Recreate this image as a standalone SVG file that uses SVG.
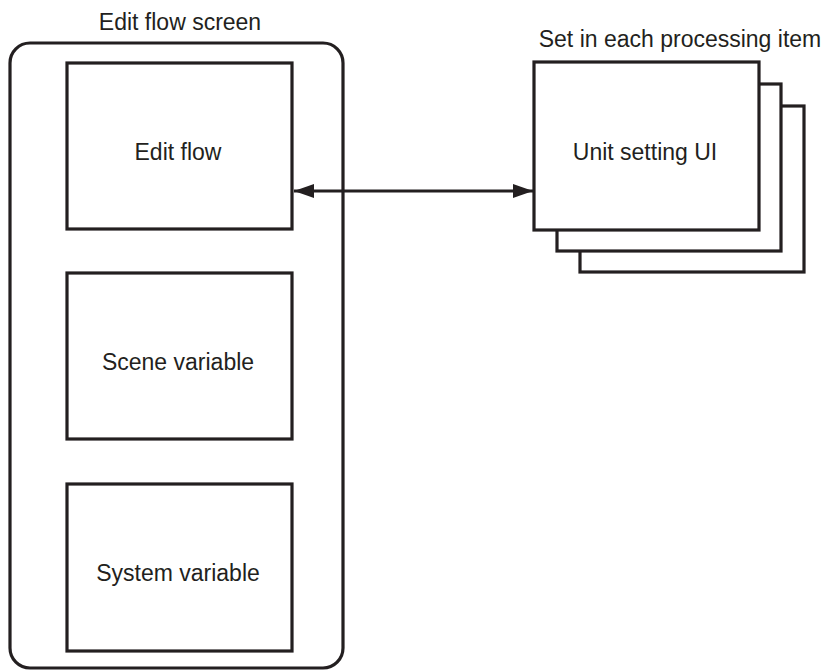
<svg xmlns="http://www.w3.org/2000/svg" width="828" height="671" viewBox="0 0 828 671">
<defs>
<style>
.box{fill:#fff;stroke:#231f20;stroke-width:3.2}
.t{font-family:"Liberation Sans",Arial,sans-serif;font-size:23px;fill:#231f20;text-anchor:middle}
.c{stroke:#231f20;stroke-width:3;fill:none}
</style>
<marker id="ah" viewBox="0 0 20 14" refX="20" refY="7" markerWidth="20" markerHeight="14" markerUnits="userSpaceOnUse" orient="auto-start-reverse">
<path d="M0,0 L20,7 L0,14 Z" fill="#231f20"/>
</marker>
</defs>
<rect width="828" height="671" fill="#fff"/>
<g id="edit-flow-screen">
<rect class="box" x="10" y="43" width="333" height="625" rx="20" ry="20"/>
<text class="t" x="180" y="30">Edit flow screen</text>
</g>
<g id="edit-flow">
<rect class="box" x="67" y="63" width="225" height="166"/>
<text class="t" x="178" y="160">Edit flow</text>
</g>
<g id="scene-variable">
<rect class="box" x="67" y="273" width="225" height="166"/>
<text class="t" x="178" y="370">Scene variable</text>
</g>
<g id="system-variable">
<rect class="box" x="67" y="484" width="225" height="167"/>
<text class="t" x="178" y="581">System variable</text>
</g>
<g id="unit-setting-ui">
<text class="t" x="680" y="47">Set in each processing item</text>
<rect class="box" x="580" y="106" width="224" height="166"/>
<rect class="box" x="557" y="84" width="224" height="167"/>
<rect class="box" x="534" y="62" width="225" height="168"/>
<text class="t" x="645" y="160">Unit setting UI</text>
</g>
<g id="connectors">
<line class="c" x1="294" y1="191" x2="533" y2="191" marker-start="url(#ah)" marker-end="url(#ah)"/>
</g>
</svg>
